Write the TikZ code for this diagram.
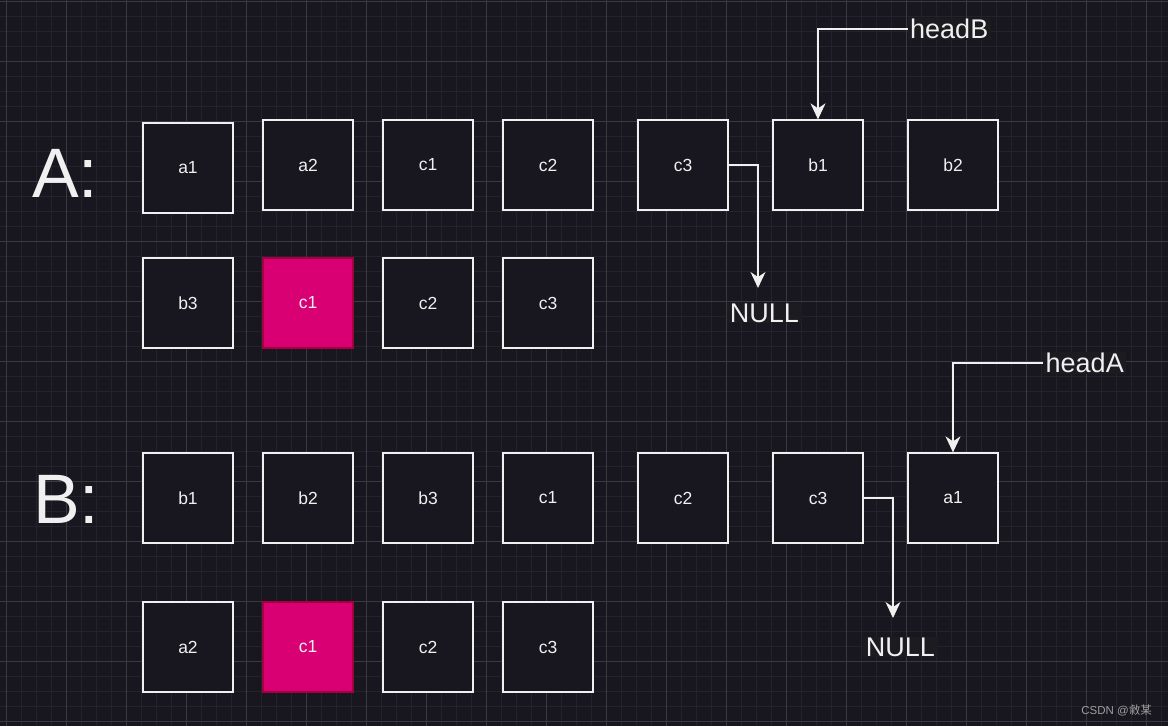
\documentclass[tikz,border=0pt]{standalone}
\usepackage{fontspec}
\setmainfont{Liberation Sans}
\newfontfamily\cjkfont{Noto Sans CJK SC}
\usetikzlibrary{arrows.meta}
\definecolor{bgc}{HTML}{18161E}
\definecolor{gridminor}{HTML}{24222A}
\definecolor{gridmajor}{HTML}{3A3940}
\definecolor{txt}{HTML}{F0F0F0}
\definecolor{magfill}{HTML}{D80073}
\definecolor{magdraw}{HTML}{A50040}
\definecolor{lblbg}{HTML}{1C1B20}
\tikzset{
  cell/.style={draw=txt, fill=bgc, line width=1.3pt, minimum width=90pt, minimum height=90pt, inner sep=0pt, text=txt, font=\fontsize{17.5}{20}\selectfont},
  hot/.style={cell, draw=magdraw, fill=magfill},
  biglbl/.style={text=txt, font=\fontsize{70}{80}\selectfont, inner sep=0pt, anchor=base west},
  ptrlbl/.style={text=txt, fill=lblbg, font=\fontsize{27}{30}\selectfont, inner xsep=2.5pt, inner ysep=1pt},
  arr/.style={draw=txt, line width=1.3pt, -{Stealth[length=16pt,width=15pt,inset=5pt]}},
}
\begin{document}
\begin{tikzpicture}[x=1pt,y=-1pt]
\useasboundingbox (0,0) rectangle (1168,726);
\fill[bgc] (0,0) rectangle (1168,726);
% grid
\foreach \x in {6.5,21.5,...,1168} \draw[gridminor, line width=1pt] (\x,0) -- (\x,726);
\foreach \y in {1.5,16.5,...,726} \draw[gridminor, line width=1pt] (0,\y) -- (1168,\y);
\foreach \x in {6.5,66.5,...,1168} \draw[gridmajor, line width=1pt] (\x,0) -- (\x,726);
\foreach \y in {1.5,61.5,...,726} \draw[gridmajor, line width=1pt] (0,\y) -- (1168,\y);

% labels A: B:
\node[biglbl] (labA) at (32,197) {A:};
\node[biglbl] (labB) at (33,523) {B:};

% A row 1
\node[cell] (Aa1) at (188,168) {a1};
\node[cell] (Aa2) at (308,165) {a2};
\node[cell] (Ac1) at (428,165) {c1};
\node[cell] (Ac2) at (548,165) {c2};
\node[cell] (Ac3) at (683,165) {c3};
\node[cell] (Ab1) at (818,165) {b1};
\node[cell] (Ab2) at (953,165) {b2};
% A row 2
\node[cell] (Ab3) at (188,303) {b3};
\node[hot]  (Ac1x) at (308,303) {c1};
\node[cell] (Ac2x) at (428,303) {c2};
\node[cell] (Ac3x) at (548,303) {c3};

% B row 1
\node[cell] (Bb1) at (188,498) {b1};
\node[cell] (Bb2) at (308,498) {b2};
\node[cell] (Bb3) at (428,498) {b3};
\node[cell] (Bc1) at (548,498) {c1};
\node[cell] (Bc2) at (683,498) {c2};
\node[cell] (Bc3) at (818,498) {c3};
\node[cell] (Ba1) at (953,498) {a1};
% B row 2
\node[cell] (Ba2) at (188,647) {a2};
\node[hot]  (Bc1x) at (308,647) {c1};
\node[cell] (Bc2x) at (428,647) {c2};
\node[cell] (Bc3x) at (548,647) {c3};

% pointers
\node[ptrlbl, anchor=west] (headB) at (907.5,29) {headB};
\draw[arr] (headB.west) -| (Ab1.north);
\coordinate (endA) at (758,288);
\node[ptrlbl] (nullA) at (764.5,313) {NULL};
\draw[arr] (Ac3.east) -| (endA);

\node[ptrlbl, anchor=west] (headA) at (1043,363) {headA};
\draw[arr] (headA.west) -| (Ba1.north);
\coordinate (endB) at (893,618);
\node[ptrlbl] (nullB) at (900.5,647) {NULL};
\draw[arr] (Bc3.east) -| (endB);

% watermark
\node[text=gray!75, font=\fontsize{11.5}{13}\selectfont, anchor=east, inner sep=0pt] (wm) at (1152,710) {CSDN @{\cjkfont 敹某}};
\end{tikzpicture}
\end{document}
